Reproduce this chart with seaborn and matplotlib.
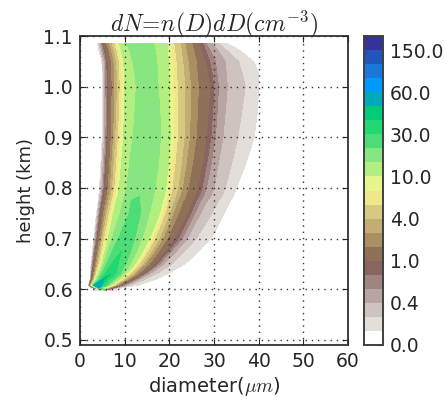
import matplotlib
matplotlib.use("Agg")
import matplotlib.pyplot as plt
import numpy as np
import seaborn as sns
from matplotlib.colors import BoundaryNorm, ListedColormap

# colour levels of n(D)dD, cm-3
levels = [0, 0.1, 0.2, 0.4, 0.6, 0.8, 1, 2, 3, 4, 6, 8, 10, 15, 20, 30, 40, 50, 60, 80, 100, 150, 200]
band_colors = ["#ffffff", "#e4dedb", "#cfc3c0", "#b8a5a3", "#9f8480", "#8a6560", "#8f7058", "#a99063",
               "#c2ae72", "#d8c982", "#f1e68a", "#e8f58a", "#b3ee80", "#88e680", "#4ddd77", "#22d870",
               "#00cc77", "#00aabb", "#0099ff", "#1a78d8", "#2255bb", "#333399"]

# where each level is crossed: diameters going in from
# the left up to the peak, then going out on the right
heights = [0.598, 0.603, 0.608, 0.62, 0.63, 0.65, 0.675, 0.70, 0.725, 0.75, 0.775, 0.783, 0.80, 0.85, 0.90,
           0.95, 1.00, 1.03, 1.05, 1.07, 1.085]

left_0598 = [3.3]
right_0598 = [8.0]
left_0603 = [2.6, 2.7, 2.8, 2.9, 3.0, 3.1, 3.2, 3.3, 3.4, 3.5, 3.6, 3.7, 3.8, 3.9]
right_0603 = [4.4, 4.8, 5.2, 5.5, 5.8, 6.1, 6.4, 6.8, 7.2, 7.5, 7.8, 8.1, 8.6, 9.2]
left_0608 = [1.9, 1.95, 2.0, 2.05, 2.1, 2.15, 2.25, 2.35, 2.45, 2.55, 2.6, 2.7, 2.8, 2.9, 3.0, 3.1, 3.2, 3.3]
right_0608 = [4.6, 4.8, 5.0, 5.5, 6.2, 6.6, 7.0, 7.2, 7.5, 7.8, 8.1, 8.5, 9.2, 9.5, 9.8, 10.4, 11.3, 13.0]
left_062 = [2.3, 2.35, 2.42, 2.5, 2.58, 2.65, 2.85, 3.0, 3.15, 3.3, 3.45, 3.6, 3.9, 4.2, 4.7, 5.0]
right_062 = [5.6, 6.6, 7.6, 8.2, 8.9, 9.2, 9.6, 10.0, 10.5, 11.0, 11.8, 12.2, 12.6, 13.3, 14.6, 17.0]
left_063 = [2.35, 2.42, 2.5, 2.6, 2.7, 2.8, 3.05, 3.25, 3.45, 3.65, 3.85, 4.05, 4.4, 4.8, 5.6]
right_063 = [8.0, 9.0, 9.6, 10.3, 10.7, 11.1, 11.7, 12.2, 12.9, 13.8, 14.2, 14.7, 15.5, 17.0, 19.5]
left_065 = [2.5, 2.6, 2.7, 2.85, 3.0, 3.15, 3.5, 3.75, 4.0, 4.3, 4.6, 4.9, 5.4, 6.0, 7.0]
right_065 = [8.5, 10.2, 11.3, 12.3, 12.8, 13.3, 14.0, 14.6, 15.5, 16.6, 17.2, 17.8, 18.8, 20.6, 23.5]
left_0675 = [2.8, 2.9, 3.05, 3.2, 3.4, 3.55, 3.95, 4.25, 4.55, 4.9, 5.25, 5.6, 6.2, 7.2]
right_0675 = [11.3, 12.7, 14.0, 14.6, 15.1, 16.0, 16.7, 17.6, 19.0, 19.7, 20.4, 21.5, 23.4, 26.6]
left_070 = [3.1, 3.2, 3.4, 3.6, 3.8, 4.0, 4.4, 4.8, 5.1, 5.5, 5.9, 6.3, 7.2, 8.6]
right_070 = [12.2, 13.8, 15.5, 16.1, 16.7, 17.7, 18.5, 19.5, 21.0, 22.0, 22.8, 24.0, 26.0, 29.3]
left_0725 = [3.4, 3.55, 3.75, 3.95, 4.15, 4.4, 4.85, 5.25, 5.6, 6.05, 6.45, 6.9, 8.1, 9.8]
right_0725 = [12.9, 14.7, 16.7, 17.3, 17.9, 18.9, 19.7, 20.8, 22.5, 23.4, 24.3, 25.5, 27.8, 30.9]
left_075 = [3.7, 3.9, 4.1, 4.3, 4.5, 4.8, 5.3, 5.7, 6.1, 6.6, 7.0, 7.5, 9.0, 11.0]
right_075 = [13.5, 15.5, 17.8, 18.4, 19.0, 20.0, 20.8, 22.0, 24.0, 24.8, 25.7, 27.0, 29.5, 32.3]
left_0775 = [4.1, 4.25, 4.5, 4.75, 4.95, 5.25, 5.8, 6.25, 6.7, 7.2, 7.65, 8.15, 9.7, 11.5]
right_0775 = [13.4, 16.2, 18.5, 19.2, 19.8, 21.0, 21.8, 23.1, 25.1, 26.0, 27.0, 28.5, 31.0, 33.7]
left_0783 = [4.2, 4.4, 4.65, 4.9, 5.1, 5.4, 6.0, 6.45, 6.95, 7.45, 7.95, 8.45, 10.0]
right_0783 = [16.4, 18.8, 19.5, 20.2, 21.4, 22.3, 23.6, 25.6, 26.6, 27.6, 29.2, 31.7, 34.3]
left_080 = [4.4, 4.6, 4.9, 5.2, 5.4, 5.7, 6.3, 6.8, 7.3, 7.8, 8.3, 8.8, 10.5]
right_080 = [16.8, 19.2, 19.9, 20.6, 21.9, 22.9, 24.2, 26.3, 27.3, 28.3, 30.0, 32.5, 35.0]
left_085 = [4.7, 4.9, 5.2, 5.5, 5.75, 6.05, 6.65, 7.15, 7.65, 8.2, 8.7, 9.3, 11.1]
right_085 = [17.6, 19.8, 20.5, 21.3, 22.7, 23.8, 25.2, 27.4, 28.4, 29.4, 31.0, 34.0, 37.2]
left_090 = [5.0, 5.2, 5.5, 5.8, 6.1, 6.4, 7.0, 7.5, 8.0, 8.6, 9.1, 9.8, 11.9]
right_090 = [18.0, 20.2, 21.0, 21.8, 23.3, 24.5, 26.0, 28.3, 29.3, 30.3, 32.0, 35.3, 39.0]
left_095 = [5.05, 5.25, 5.55, 5.85, 6.15, 6.5, 7.1, 7.7, 8.2, 8.8, 9.3, 9.9, 12.3]
right_095 = [17.9, 20.1, 20.9, 21.9, 23.4, 24.7, 26.3, 28.7, 29.7, 30.7, 32.5, 36.2, 39.7]
left_100 = [5.0, 5.2, 5.5, 5.8, 6.1, 6.5, 7.2, 7.8, 8.4, 9.0, 9.5, 10.0, 12.6]
right_100 = [17.5, 20.0, 20.8, 21.8, 23.5, 24.8, 26.5, 29.0, 30.0, 31.0, 33.0, 37.0, 40.0]
left_103 = [5.0, 5.15, 5.45, 5.75, 6.05, 6.4, 7.1, 7.7, 8.3, 8.9, 9.4, 9.9, 12.2]
right_103 = [17.3, 19.9, 20.7, 21.6, 23.2, 24.4, 26.2, 28.5, 29.5, 30.6, 32.7, 36.2, 39.9]
left_105 = [4.9, 5.1, 5.4, 5.7, 6.0, 6.3, 7.0, 7.6, 8.2, 8.8, 9.3, 9.8, 11.8]
right_105 = [17.2, 19.8, 20.6, 21.5, 23.0, 24.2, 26.0, 28.0, 29.0, 30.3, 32.5, 35.5, 38.8]
left_107 = [4.3, 4.6, 4.9, 5.2, 5.5, 5.8, 6.5, 7.1, 7.7, 8.3, 8.8, 9.3, 11.2]
right_107 = [16.9, 19.6, 20.4, 21.2, 22.7, 23.8, 25.5, 27.2, 28.2, 29.2, 31.0, 33.0, 36.0]
left_1085 = [3.9, 4.2, 4.5, 4.8, 5.1, 5.4, 6.0, 6.6, 7.2, 7.8, 8.3, 8.8, 10.5]
right_1085 = [16.5, 19.5, 20.3, 21.0, 22.5, 23.5, 25.0, 26.5, 27.5, 28.2, 29.5, 31.0, 33.0]

rows = [
    (left_0598, right_0598), (left_0603, right_0603), (left_0608, right_0608),
    (left_062, right_062), (left_063, right_063), (left_065, right_065), (left_0675, right_0675),
    (left_070, right_070), (left_0725, right_0725), (left_075, right_075), (left_0775, right_0775),
    (left_0783, right_0783), (left_080, right_080), (left_085, right_085), (left_090, right_090),
    (left_095, right_095), (left_100, right_100), (left_103, right_103), (left_105, right_105),
    (left_107, right_107), (left_1085, right_1085),
]

cbar_ticks = levels[::3]

sns.set_style("ticks", {"axes.edgecolor": "0.25", "xtick.direction": "in", "ytick.direction": "in"})
plt.rcParams["mathtext.fontset"] = "cm"


def build_mesh():
    # levels the peak does not reach collapse onto the middle of the row
    used = levels[1:19]
    X = []
    for left, right in rows:
        mid = (left[-1] + right[0]) / 2
        pad = [mid] * (len(used) - len(left))
        X.append(list(left) + pad + pad + list(right))
    Z = list(used) + list(used[::-1])
    Y = np.repeat(np.array(heights)[:, None], len(Z), axis=1)
    Z = np.tile(Z, (len(heights), 1))
    return np.array(X), Y, Z


fig = plt.figure(figsize=(4.46, 4.0), dpi=100)
ax = fig.add_axes([80 / 446, 55 / 400, 268 / 446, 309 / 400])
cax = fig.add_axes([364 / 446, 55 / 400, 19 / 446, 309 / 400])

cmap = ListedColormap(sns.color_palette(band_colors))
norm = BoundaryNorm(levels, cmap.N)

X, Y, Z = build_mesh()
cs = ax.contourf(X, Y, Z, levels=levels, cmap=cmap, norm=norm)

ax.set_xlim(0, 60)
ax.set_ylim(0.49, 1.1)
ax.set_xticks([0, 10, 20, 30, 40, 50, 60])
ax.set_yticks([0.5, 0.6, 0.7, 0.8, 0.9, 1.0, 1.1])
ax.set_axisbelow(False)
ax.grid(True, color="0.2", linestyle=(0, (1, 3.5)), linewidth=1)
ax.tick_params(labelsize=13.5, top=True, right=True, length=4, pad=5)
ax.set_xlabel(r"diameter($\mu m$)", fontsize=14, labelpad=3)
ax.set_ylabel("height (km)", fontsize=13, labelpad=6)
ax.set_title(r"$dN\!=\!n(D)dD(cm^{-3})$", fontsize=17, pad=3)
for spine in ax.spines.values():
    spine.set_linewidth(1.4)

cbar = fig.colorbar(cs, cax=cax, ticks=cbar_ticks, spacing="uniform")
cbar.ax.set_yticklabels([f"{t:.1f}" for t in cbar_ticks], fontsize=13.5)
cbar.ax.tick_params(length=4, direction="in", right=True, pad=5)
cbar.outline.set_linewidth(1.4)

fig.savefig("out.png", dpi=100)
